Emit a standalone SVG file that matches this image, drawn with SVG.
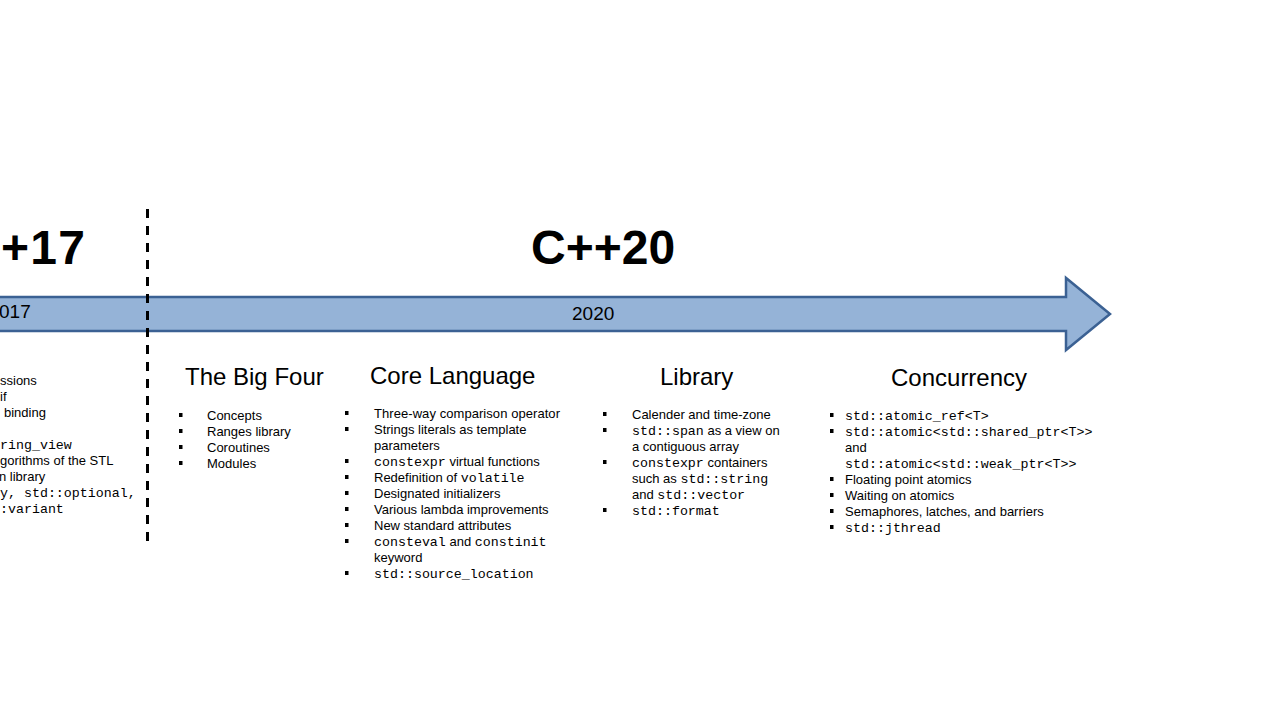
<svg xmlns="http://www.w3.org/2000/svg" width="1280" height="720" viewBox="0 0 1280 720">
  <style>
    .sans { font-family: "Liberation Sans", Arial, sans-serif; fill: #000; }
    .mono { font-family: "Liberation Mono", "Courier New", monospace; font-size: 13.3px; fill: #000; }
    .title { font-family: "Liberation Sans", Arial, sans-serif; font-weight: bold; font-size: 48px; fill: #000; }
    .year { font-family: "Liberation Sans", Arial, sans-serif; font-size: 19px; fill: #000; }
    .head { font-family: "Liberation Sans", Arial, sans-serif; font-size: 24px; fill: #000; }
    .body { font-size: 13px; }
    .bullet { fill: #000; }
  </style>
  <defs>
    <rect id="sq" class="bullet" width="3.5" height="4" />
  </defs>

  <rect width="1280" height="720" fill="#fff" />

  <!-- timeline arrow -->
  <g id="timeline">
    <path d="M -10 297 H 1066 V 278 L 1110 314 L 1066 350 V 331 H -10 Z" fill="#95b3d7" stroke="#3b6193" stroke-width="2.5" stroke-linejoin="miter" />
    <text class="year" x="-1" y="318">017</text>
    <text class="year" x="572" y="320">2020</text>
  </g>

  <!-- era divider -->
  <g id="connectors">
    <line x1="147.5" y1="209" x2="147.5" y2="541" stroke="#000" stroke-width="3" stroke-dasharray="9 8" />
  </g>

  <!-- C++17 era -->
  <g id="cpp17">
    <text class="title" x="1" y="264" textLength="84">+17</text>
    <g class="sans body">
      <text x="0" y="385">ssions</text>
      <text x="0" y="401">if</text>
      <text x="4" y="417">binding</text>
      <text class="mono" x="0" y="449">ring_view</text>
      <text x="0" y="465">gorithms of the STL</text>
      <text x="-1" y="481">n library</text>
      <text class="mono" x="0" y="497">y, std::optional,</text>
      <text class="mono" x="0" y="513">:variant</text>
    </g>
  </g>

  <!-- C++20 era -->
  <g id="cpp20">
    <text class="title" x="531" y="264">C++20</text>
  </g>

  <g id="big-four">
    <text class="head" x="185" y="385">The Big Four</text>
    <use href="#sq" x="179" y="413" />
    <use href="#sq" x="179" y="429" />
    <use href="#sq" x="179" y="445" />
    <use href="#sq" x="179" y="461" />
    <g class="sans body">
      <text x="207" y="420">Concepts</text>
      <text x="207" y="436">Ranges library</text>
      <text x="207" y="452">Coroutines</text>
      <text x="207" y="468">Modules</text>
    </g>
  </g>

  <g id="core-language">
    <text class="head" x="370" y="384">Core Language</text>
    <use href="#sq" x="345" y="411" />
    <use href="#sq" x="345" y="427" />
    <use href="#sq" x="345" y="459" />
    <use href="#sq" x="345" y="475" />
    <use href="#sq" x="345" y="491" />
    <use href="#sq" x="345" y="507" />
    <use href="#sq" x="345" y="523" />
    <use href="#sq" x="345" y="539" />
    <use href="#sq" x="345" y="571" />
    <g class="sans body">
      <text x="374" y="418" textLength="186">Three-way  comparison  operator</text>
      <text x="374" y="434">Strings literals as template</text>
      <text x="374" y="450">parameters</text>
      <text x="374" y="466"><tspan class="mono">constexpr</tspan> virtual functions</text>
      <text x="374" y="482">Redefinition  of <tspan class="mono">volatile</tspan></text>
      <text x="374" y="498">Designated initializers</text>
      <text x="374" y="514">Various lambda improvements</text>
      <text x="374" y="530">New standard attributes</text>
      <text x="374" y="546"><tspan class="mono">consteval</tspan> and <tspan class="mono">constinit</tspan></text>
      <text x="374" y="562">keyword</text>
      <text class="mono" x="374" y="578">std::source_location</text>
    </g>
  </g>

  <g id="library">
    <text class="head" x="660" y="385">Library</text>
    <use href="#sq" x="603" y="412" />
    <use href="#sq" x="603" y="428" />
    <use href="#sq" x="603" y="460" />
    <use href="#sq" x="603" y="508" />
    <g class="sans body">
      <text x="632" y="419">Calender and time-zone</text>
      <text x="632" y="435"><tspan class="mono">std::span</tspan>  as a view  on</text>
      <text x="632" y="451">a contiguous array</text>
      <text x="632" y="467"><tspan class="mono">constexpr</tspan> containers</text>
      <text x="632" y="483">such as <tspan class="mono">std::string</tspan></text>
      <text x="632" y="499">and <tspan class="mono">std::vector</tspan></text>
      <text class="mono" x="632" y="515">std::format</text>
    </g>
  </g>

  <g id="concurrency">
    <text class="head" x="891" y="386">Concurrency</text>
    <use href="#sq" x="830" y="413" />
    <use href="#sq" x="830" y="429" />
    <use href="#sq" x="830" y="477" />
    <use href="#sq" x="830" y="493" />
    <use href="#sq" x="830" y="509" />
    <use href="#sq" x="830" y="525" />
    <g class="sans body">
      <text class="mono" x="845" y="420">std::atomic_ref&lt;T&gt;</text>
      <text class="mono" x="845" y="436">std::atomic&lt;std::shared_ptr&lt;T&gt;&gt;</text>
      <text x="845" y="452">and</text>
      <text class="mono" x="845" y="468">std::atomic&lt;std::weak_ptr&lt;T&gt;&gt;</text>
      <text x="845" y="484">Floating point atomics</text>
      <text x="845" y="500">Waiting on atomics</text>
      <text x="845" y="516">Semaphores, latches, and barriers</text>
      <text class="mono" x="845" y="532">std::jthread</text>
    </g>
  </g>
</svg>
